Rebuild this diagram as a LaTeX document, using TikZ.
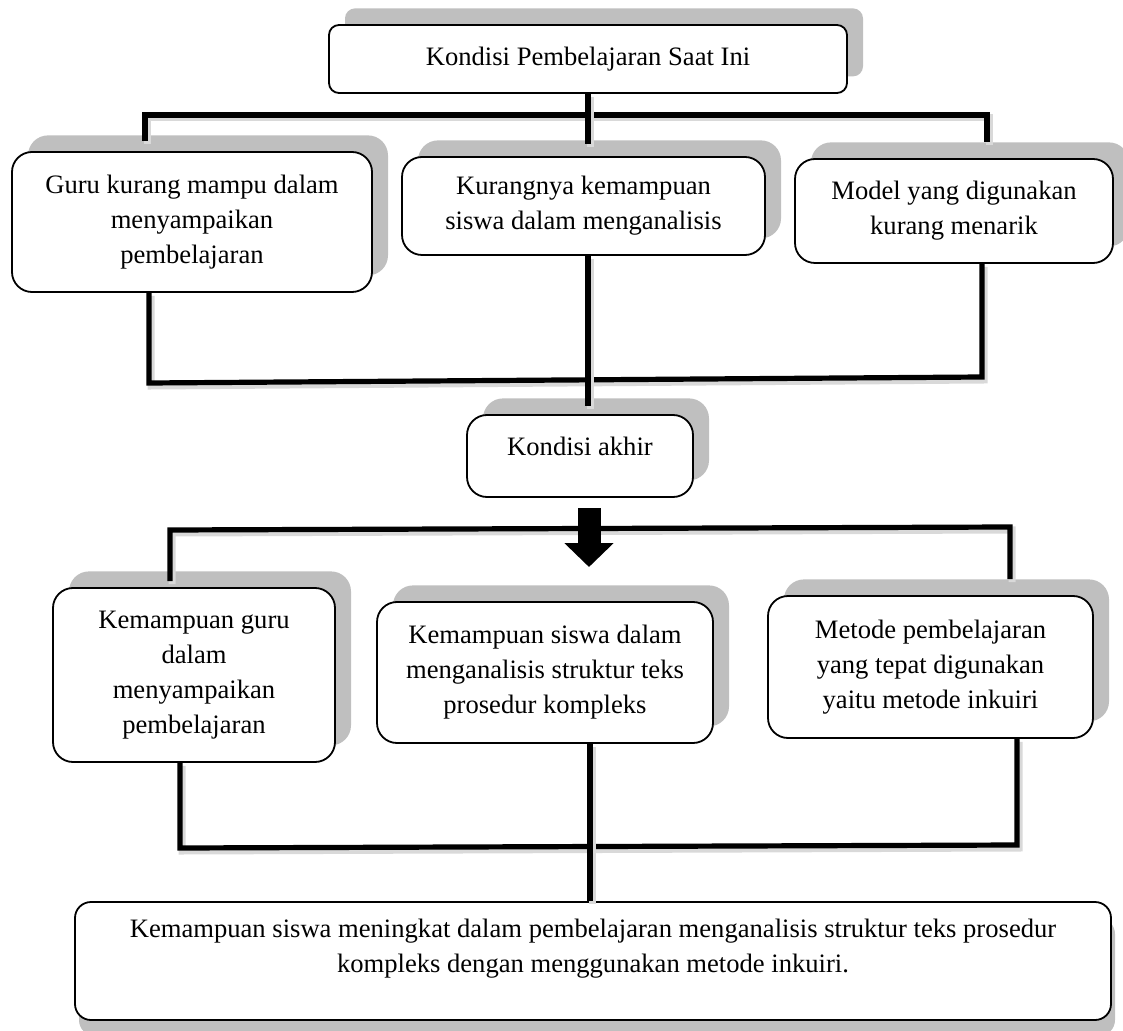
\documentclass[tikz,border=0pt]{standalone}
\usepackage{fontspec}
\setmainfont{Liberation Serif}
\usetikzlibrary{shadows,arrows.meta}
\begin{document}
\begin{tikzpicture}[x=0.5pt,y=-0.5pt,
  kotak/.style={draw,line width=0.9pt,fill=white,rounded corners=10pt,align=center,
    inner sep=0pt,font=\fontsize{13.3}{17.5}\selectfont},
  bayang/.style={general shadow={fill=black!25,shadow xshift=8pt,shadow yshift=8.3pt}},
  bayangbawah/.style={general shadow={fill=black!25,shadow xshift=2pt,shadow yshift=-8pt}},
  garis/.style={line width=2.6pt,line join=miter,
    preaction={draw=black!15,line width=3.5pt,transform canvas={xshift=1pt,yshift=-1.5pt}}},
  panah/.style={line width=11.5pt,-{Triangle[length=12pt,width=24pt]}}]
\useasboundingbox (0,0) rectangle (1123,1031);
% kondisi awal
\node[kotak,bayang,rounded corners=5pt,minimum width=259pt,minimum height=34pt] (awal) at (588,59) {Kondisi Pembelajaran Saat Ini};
\node[kotak,bayang,minimum width=180pt,minimum height=70pt] (guru) at (192,222) {Guru kurang mampu dalam\\menyampaikan\\pembelajaran};
\node[kotak,bayang,minimum width=181.5pt,minimum height=49pt] (siswa) at (583.5,206) {Kurangnya kemampuan\\siswa dalam menganalisis};
\node[kotak,bayang,minimum width=159pt,minimum height=52pt] (model) at (954,211) {Model yang digunakan\\kurang menarik};
\node[kotak,bayang,minimum width=113pt,minimum height=41pt,text depth=10pt] (akhir) at (580,456) {Kondisi akhir};
% kondisi akhir
\node[kotak,bayang,minimum width=141pt,minimum height=87pt] (kemguru) at (194,675) {Kemampuan guru\\dalam\\menyampaikan\\pembelajaran};
\node[kotak,bayang,minimum width=168pt,minimum height=70.5pt] (kemsiswa) at (545,672.5) {Kemampuan siswa dalam\\menganalisis struktur teks\\prosedur kompleks};
\node[kotak,bayang,minimum width=162.5pt,minimum height=71pt] (metode) at (930.5,667) {Metode pembelajaran\\yang tepat digunakan\\yaitu metode inkuiri};
\node[kotak,bayangbawah,rounded corners=8pt,minimum width=518pt,minimum height=59pt,text depth=15.6pt] (hasil) at (593,961) {Kemampuan siswa meningkat dalam pembelajaran menganalisis struktur teks prosedur\\kompleks dengan menggunakan metode inkuiri.};
% garis penghubung
\coordinate (j1) at (145,115);
\coordinate (j2) at (987,115);
\draw[garis,shorten <=5pt,shorten >=8pt] (j1 |- guru.north) -- (j1) -- (j2) -- (j2 |- model.north);
\draw[garis,shorten >=6pt] (awal.south) -- (awal.south |- siswa.north);
\coordinate (k1) at (149,383);
\coordinate (k2) at (982,377);
\draw[garis] (guru.south -| k1) -- (k1) -- (k2) -- (model.south -| k2);
\draw[garis,shorten >=4pt] (siswa.south -| awal.south) -- (awal.south |- akhir.north);
\coordinate (a1) at (170,530);
\coordinate (a2) at (1010,527);
\draw[garis,shorten <=3pt,shorten >=8pt] (a1 |- kemguru.north) -- (a1) -- (a2) -- (a2 |- metode.north);
\coordinate (p1) at (589,508);
\coordinate (p2) at (589,567);
\draw[panah] (p1) -- (p2);
\coordinate (h1) at (180,848);
\coordinate (h2) at (1017,845);
\coordinate (h3) at (590,846);
\draw[garis] (kemguru.south -| h1) -- (h1) -- (h2) -- (metode.south -| h2);
\draw[garis] (kemsiswa.south -| h3) -- (hasil.north -| h3);
\end{tikzpicture}
\end{document}
